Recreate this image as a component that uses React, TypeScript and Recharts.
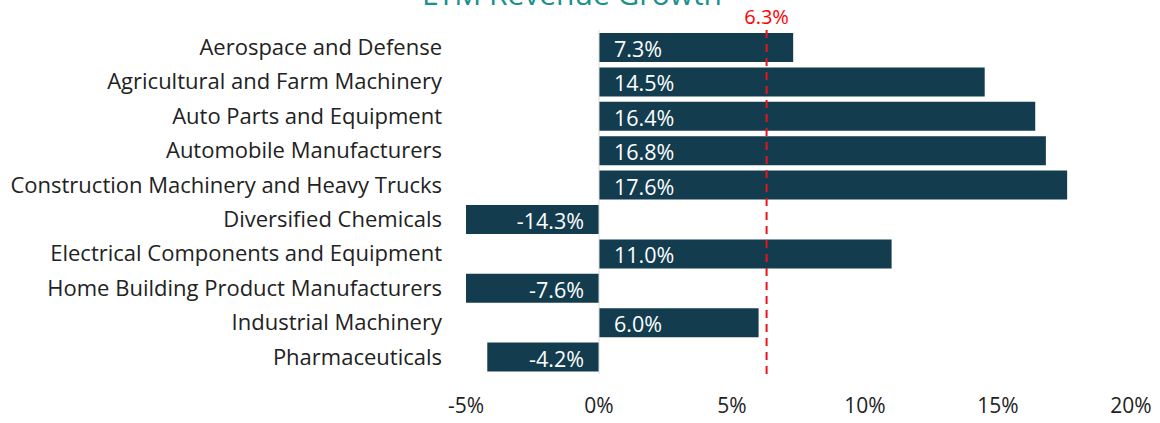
import { BarChart, Bar, XAxis, YAxis, ReferenceLine, LabelList } from "recharts";

const categories = [
    "Aerospace and Defense",
    "Agricultural and Farm Machinery",
    "Auto Parts and Equipment",
    "Automobile Manufacturers",
    "Construction Machinery and Heavy Trucks",
    "Diversified Chemicals",
    "Electrical Components and Equipment",
    "Home Building Product Manufacturers",
    "Industrial Machinery",
    "Pharmaceuticals",
];
const growth = [7.3, 14.5, 16.4, 16.8, 17.6, -14.3, 11.0, -7.6, 6.0, -4.2];
const xTicks = [-5, 0, 5, 10, 15, 20];
const median = 6.3;

const FONT = "'Open Sans', sans-serif";

const renderValue = (props: any) => {
    const { x, y, width, height, value } = props;
    const left = Math.min(x, x + width);
    const right = Math.max(x, x + width);
    const neg = value < 0;
    const zero = neg ? right : left;
    return (
        <text
            x={neg ? zero - 15 : zero + 15}
            y={y + height / 2 + 1}
            textAnchor={neg ? "end" : "start"}
            dominantBaseline="central"
            fill="#ffffff"
            fontSize={21.5}
            fontFamily={FONT}
        >
            {value.toFixed(1)}%
        </text>
    );
};

export default function App() {
    const data = categories.map((name, i) => ({ name, value: growth[i] }));

    return (
        <div style={{ position: "absolute", left: 0, top: 0, width: 1160, height: 423, background: "#fff" }}>
            <BarChart
                width={1160}
                height={423}
                data={data}
                layout="vertical"
                margin={{ top: 30, right: 29, bottom: 0, left: 0 }}
            >
                <XAxis
                    type="number"
                    domain={[-5, 20]}
                    ticks={xTicks}
                    allowDataOverflow
                    axisLine={false}
                    tickLine={false}
                    tickSize={0}
                    tickMargin={24}
                    height={49}
                    interval={0}
                    tickFormatter={(v: number) => `${v}%`}
                    tick={{ fill: "#222", fontSize: 21, fontFamily: FONT }}
                />
                <YAxis
                    type="category"
                    dataKey="name"
                    width={466}
                    axisLine={false}
                    tickLine={false}
                    tickSize={0}
                    tickMargin={24}
                    interval={0}
                    tick={{ fill: "#222", fontSize: 22, fontFamily: FONT }}
                />
                <ReferenceLine x={0} stroke="#d9d9d9" strokeWidth={1} />
                <Bar dataKey="value" fill="#133d4f" barSize={29} isAnimationActive={false}>
                    <LabelList dataKey="value" content={renderValue} />
                </Bar>
                <ReferenceLine
                    x={median}
                    stroke="#e8141c"
                    strokeWidth={2}
                    strokeDasharray="8 6"
                    label={{ value: `${median}%`, position: "top", fill: "#ff0000", fontSize: 20, fontFamily: FONT, offset: 6 }}
                />
            </BarChart>
            <svg width={1160} height={40} style={{ position: "absolute", left: 0, top: 0, pointerEvents: "none" }}>
                <text x={572} y={5} textAnchor="middle" fill="#1a9090" fontSize={30} fontFamily={FONT}>
                    LTM Revenue Growth
                </text>
            </svg>
        </div>
    );
}
